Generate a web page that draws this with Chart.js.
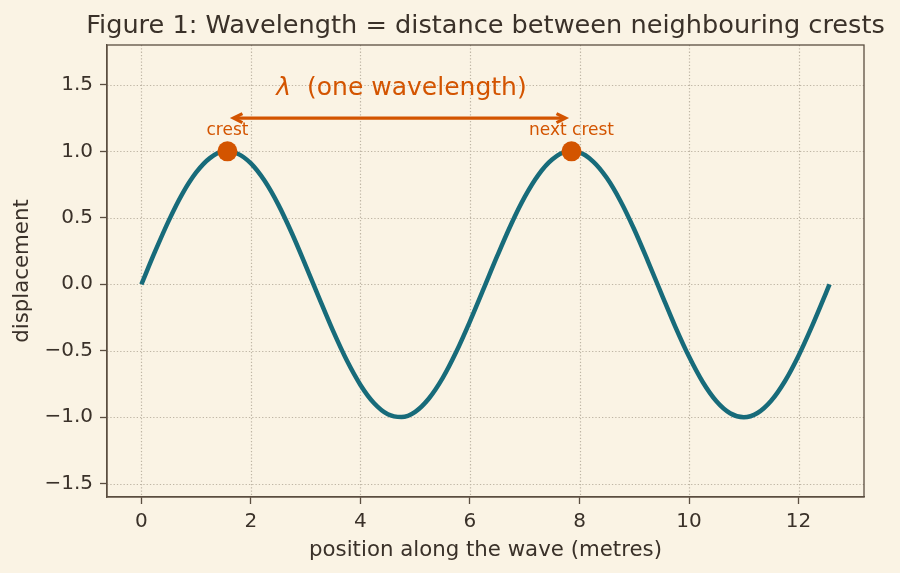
<!DOCTYPE html>
<html>
<head>
<meta charset="utf-8">
<script src="https://cdn.jsdelivr.net/npm/chart.js@4.4.1/dist/chart.umd.min.js"></script>
<style>
  html, body { margin: 0; padding: 0; background: #faf3e4; }
  #wrap { width: 900px; height: 573px; }
</style>
</head>
<body>
<div id="wrap"><canvas id="c" width="900" height="573"></canvas></div>
<script>
// ---- data ----
const waveX = [0, 0.25, 0.5, 0.75, 1.0, 1.25, 1.5, 1.75, 2.0, 2.25, 2.5, 2.75, 3.0, 3.25, 3.5, 3.75,
  4.0, 4.25, 4.5, 4.75, 5.0, 5.25, 5.5, 5.75, 6.0, 6.25, 6.5, 6.75, 7.0, 7.25, 7.5, 7.75,
  8.0, 8.25, 8.5, 8.75, 9.0, 9.25, 9.5, 9.75, 10.0, 10.25, 10.5, 10.75, 11.0, 11.25, 11.5, 11.75,
  12.0, 12.25, 12.5, 12.566];
const waveY = [0, 0.247, 0.479, 0.682, 0.841, 0.949, 0.998, 0.984, 0.909, 0.778, 0.599, 0.382, 0.141, -0.108, -0.351, -0.572,
  -0.757, -0.895, -0.978, -0.999, -0.959, -0.859, -0.706, -0.508, -0.279, -0.033, 0.215, 0.450, 0.657, 0.823, 0.938, 0.995,
  0.989, 0.923, 0.799, 0.625, 0.412, 0.173, -0.075, -0.320, -0.544, -0.735, -0.880, -0.970, -1.000, -0.968, -0.876, -0.729,
  -0.537, -0.311, -0.066, 0];
const crestX = [1.571, 7.854];
const crestY = [1.0, 1.0];
const crestLabels = ['crest', 'next crest'];
const arrowY = 1.25;
const lambdaLabelX = 4.75;
const lambdaLabelY = 1.47;
const crestLabelY = 1.16;
const xTicks = [0, 2, 4, 6, 8, 10, 12];
const xTickLabels = ['0', '2', '4', '6', '8', '10', '12'];
const yTicks = [-1.5, -1.0, -0.5, 0.0, 0.5, 1.0, 1.5];
const yTickLabels = ['\u22121.5', '\u22121.0', '\u22120.5', '0.0', '0.5', '1.0', '1.5'];
const titleText = 'Figure 1: Wavelength = distance between neighbouring crests';
const xTitle = 'position along the wave (metres)';
const yTitle = 'displacement';

// ---- style ----
const BG = '#faf3e4';
const TEAL = '#176b7a';
const ORANGE = '#d35400';
const INK = '#3a3129';
const SPINE = '#5b4e40';
const GRID = '#bfb6a5';
const FONT = '"DejaVu Sans", sans-serif';

const decorPlugin = {
  id: 'decor',
  beforeDraw(chart) {
    const ctx = chart.ctx;
    ctx.save();
    ctx.fillStyle = BG;
    ctx.fillRect(0, 0, chart.width, chart.height);
    ctx.restore();
  },
  beforeDatasetsDraw(chart) {
    // dotted grid lines at the tick positions
    const ctx = chart.ctx;
    const a = chart.chartArea;
    const xs = chart.scales.x, ys = chart.scales.y;
    ctx.save();
    ctx.strokeStyle = GRID;
    ctx.lineWidth = 1.2;
    ctx.setLineDash([1.3, 2.0]);
    xs.ticks.forEach(t => {
      const px = Math.round(xs.getPixelForValue(t.value)) + 0.5;
      ctx.beginPath();
      ctx.moveTo(px, a.top);
      ctx.lineTo(px, a.bottom);
      ctx.stroke();
    });
    ys.ticks.forEach(t => {
      const py = Math.round(ys.getPixelForValue(t.value)) + 0.5;
      ctx.beginPath();
      ctx.moveTo(a.left, py);
      ctx.lineTo(a.right, py);
      ctx.stroke();
    });
    ctx.restore();
  },
  afterDraw(chart) {
    const ctx = chart.ctx;
    const a = chart.chartArea;
    const xs = chart.scales.x, ys = chart.scales.y;
    ctx.save();
    // full axes box
    ctx.strokeStyle = SPINE;
    ctx.lineWidth = 1.3;
    ctx.strokeRect(a.left, a.top, a.right - a.left, a.bottom - a.top);
    // title
    ctx.fillStyle = INK;
    ctx.font = '25.6px ' + FONT;
    ctx.textAlign = 'center';
    ctx.textBaseline = 'alphabetic';
    ctx.fillText(titleText, (a.left + a.right) / 2, 33);

    // arrow between crests
    const x1 = xs.getPixelForValue(crestX[0]) + 6;
    const x2 = xs.getPixelForValue(crestX[1]) - 6;
    const ay = ys.getPixelForValue(arrowY);
    ctx.strokeStyle = ORANGE;
    ctx.lineWidth = 3.2;
    ctx.lineCap = 'butt';
    ctx.beginPath();
    ctx.moveTo(x1 + 1, ay);
    ctx.lineTo(x2 - 1, ay);
    ctx.stroke();
    ctx.lineJoin = 'miter';
    ctx.beginPath();
    ctx.moveTo(x1 + 9, ay - 4.5);
    ctx.lineTo(x1, ay);
    ctx.lineTo(x1 + 9, ay + 4.5);
    ctx.stroke();
    ctx.beginPath();
    ctx.moveTo(x2 - 9, ay - 4.5);
    ctx.lineTo(x2, ay);
    ctx.lineTo(x2 - 9, ay + 4.5);
    ctx.stroke();

    // lambda label
    ctx.fillStyle = ORANGE;
    ctx.textBaseline = 'middle';
    const lx = xs.getPixelForValue(lambdaLabelX);
    const ly = ys.getPixelForValue(lambdaLabelY);
    ctx.font = 'italic 25px ' + FONT;
    const lam = '\u03bb';
    const rest = '  (one wavelength)';
    const w1 = ctx.measureText(lam).width;
    ctx.font = '25px ' + FONT;
    const w2 = ctx.measureText(rest).width;
    const start = lx - (w1 + w2) / 2;
    ctx.textAlign = 'left';
    ctx.font = 'italic 25px ' + FONT;
    ctx.fillText(lam, start, ly);
    ctx.font = '25px ' + FONT;
    ctx.fillText(rest, start + w1, ly);

    // crest labels
    ctx.font = '17px ' + FONT;
    ctx.textAlign = 'center';
    crestX.forEach((cx, i) => {
      ctx.fillText(crestLabels[i], xs.getPixelForValue(cx), ys.getPixelForValue(crestLabelY));
    });
    ctx.restore();
  }
};

const gridCommon = {
  drawOnChartArea: false,
  drawTicks: true,
  tickLength: 7,
  tickColor: SPINE,
  tickWidth: 1.3
};

new Chart(document.getElementById('c'), {
  type: 'line',
  data: {
    datasets: [
      {
        data: crestX.map((x, i) => ({ x: x, y: crestY[i] })),
        showLine: false,
        pointRadius: 10,
        pointBackgroundColor: ORANGE,
        pointBorderColor: ORANGE,
        pointBorderWidth: 0,
        order: 0
      },
      {
        data: waveX.map((x, i) => ({ x: x, y: waveY[i] })),
        borderColor: TEAL,
        borderWidth: 4.5,
        pointRadius: 0,
        cubicInterpolationMode: 'monotone',
        fill: false,
        borderCapStyle: 'butt',
        order: 1
      }
    ]
  },
  options: {
    responsive: false,
    animation: false,
    devicePixelRatio: 1,
    layout: { padding: { top: 45, right: 36, left: 0, bottom: 0 } },
    plugins: {
      legend: { display: false },
      tooltip: { enabled: false },
      title: { display: false }
    },
    scales: {
      x: {
        type: 'linear',
        min: -0.628,
        max: 13.195,
        afterBuildTicks: (s) => { s.ticks = xTicks.map(v => ({ value: v })); },
        afterFit: (s) => { s.height = 76; },
        grid: gridCommon,
        border: { color: SPINE, width: 1.3 },
        ticks: {
          autoSkip: false,
          maxRotation: 0,
          padding: 6,
          color: INK,
          font: { family: FONT, size: 20 },
          callback: (v, i) => xTickLabels[i]
        },
        title: {
          display: true,
          text: xTitle,
          color: INK,
          font: { family: FONT, size: 21.3 },
          padding: { top: 0, bottom: 10 }
        }
      },
      y: {
        type: 'linear',
        min: -1.6,
        max: 1.8,
        afterBuildTicks: (s) => { s.ticks = yTicks.map(v => ({ value: v })); },
        afterFit: (s) => { s.width = 107; },
        grid: gridCommon,
        border: { color: SPINE, width: 1.3 },
        ticks: {
          autoSkip: false,
          padding: 7,
          color: INK,
          font: { family: FONT, size: 20 },
          callback: (v, i) => yTickLabels[i]
        },
        title: {
          display: true,
          text: yTitle,
          color: INK,
          font: { family: FONT, size: 21.3 },
          padding: { top: 10, bottom: 0 }
        }
      }
    }
  },
  plugins: [decorPlugin]
});
</script>
</body>
</html>
